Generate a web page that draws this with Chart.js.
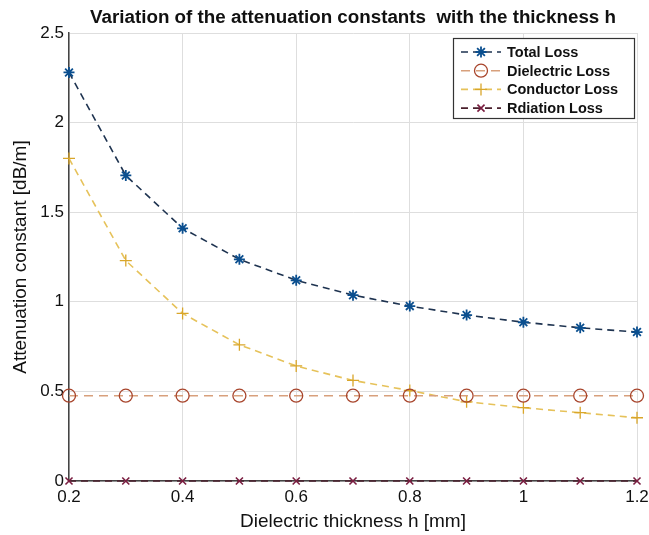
<!DOCTYPE html>
<html>
<head>
<meta charset="utf-8">
<script src="https://cdn.jsdelivr.net/npm/chart.js@4"></script>
<style>
  body { margin: 0; background: #fff; }
  #wrap { width: 649px; height: 535px; }
</style>
</head>
<body>
<div id="wrap"><canvas id="grafico" width="649" height="535"></canvas></div>
<script>
// thickness h [mm]
var espessuras = [0.2, 0.3, 0.4, 0.5, 0.6, 0.7, 0.8, 0.9, 1.0, 1.1, 1.2];

// attenuation constants [dB/m]
var perdaTotal      = [2.28, 1.705, 1.41, 1.237, 1.12, 1.037, 0.976, 0.926, 0.886, 0.855, 0.831];
var perdaDieletrico = [0.476, 0.476, 0.476, 0.476, 0.476, 0.476, 0.476, 0.476, 0.476, 0.476, 0.476];
var perdaCondutor   = [1.80, 1.23, 0.935, 0.76, 0.642, 0.561, 0.505, 0.442, 0.409, 0.381, 0.353];
var perdaRadiacao   = [0, 0, 0, 0, 0, 0, 0, 0, 0, 0, 0];

var nomes = ["Total Loss", "Dielectric Loss", "Conductor Loss", "Rdiation Loss"];
var titulo = "Variation of the attenuation constants  with the thickness h";
var ticksX = [0.2, 0.4, 0.6, 0.8, 1, 1.2];
var ticksY = [0, 0.5, 1, 1.5, 2, 2.5];

function pontos(valores) {
    var lista = [];
    for (var i = 0; i < espessuras.length; i++) {
        lista.push({ x: espessuras[i], y: valores[i] });
    }
    return lista;
}

function formata(v) {
    return String(Number(v.toFixed(2)));
}

var fonte = "'Liberation Sans', Arial, sans-serif";

// title centred over the axes, MATLAB style
var tituloMatlab = {
    id: "tituloMatlab",
    afterDraw: function (chart) {
        var ctx = chart.ctx;
        var area = chart.chartArea;
        ctx.save();
        ctx.fillStyle = "#111111";
        ctx.font = "bold 18.8px " + fonte;
        ctx.textAlign = "center";
        ctx.textBaseline = "middle";
        ctx.fillText(titulo, (area.left + area.right) / 2, 18);
        ctx.restore();
    }
};

// legend drawn like the MATLAB one: dashed sample + marker
var legendaMatlab = {
    id: "legendaMatlab",
    afterDraw: function (chart) {
        var ctx = chart.ctx;
        var x0 = 453, y0 = 38, w = 181, h = 80;
        ctx.save();
        ctx.fillStyle = "#ffffff";
        ctx.fillRect(x0, y0, w, h);
        ctx.strokeStyle = "#333333";
        ctx.lineWidth = 1.2;
        ctx.setLineDash([]);
        ctx.strokeRect(x0 + 0.5, y0 + 0.5, w, h);

        var ds = chart.data.datasets;
        for (var i = 0; i < ds.length; i++) {
            var y = y0 + 14 + i * 18.7;
            ctx.strokeStyle = ds[i].borderColor;
            ctx.lineWidth = ds[i].borderWidth;
            ctx.setLineDash(ds[i].borderDash);
            ctx.beginPath();
            ctx.moveTo(x0 + 8, y);
            ctx.lineTo(x0 + 48, y);
            ctx.stroke();
            ctx.setLineDash([]);
            if (ds[i].pointRadius > 0) {
                ctx.strokeStyle = ds[i].pointBorderColor;
                ctx.fillStyle = ds[i].pointBackgroundColor;
                ctx.lineWidth = ds[i].pointBorderWidth;
                Chart.helpers.drawPoint(ctx, {
                    pointStyle: ds[i].pointStyle,
                    radius: ds[i].pointRadius,
                    rotation: 0,
                    borderWidth: ds[i].pointBorderWidth
                }, x0 + 28, y);
            }
            ctx.fillStyle = "#111111";
            ctx.font = "bold 14.5px " + fonte;
            ctx.textBaseline = "middle";
            ctx.textAlign = "left";
            ctx.fillText(nomes[i], x0 + 54, y + 1);
        }
        ctx.restore();
    }
};

new Chart(document.getElementById("grafico"), {
    type: "line",
    data: {
        datasets: [{
            label: nomes[0],
            data: pontos(perdaTotal),
            borderColor: "#1e3350",
            borderWidth: 1.6,
            borderDash: [7, 5],
            pointStyle: "star",
            pointRadius: 5.5,
            pointBorderColor: "#0b4f8f",
            pointBackgroundColor: "#0b4f8f",
            pointBorderWidth: 1.8,
            tension: 0,
            clip: false
        }, {
            label: nomes[1],
            data: pontos(perdaDieletrico),
            borderColor: "#d8a07c",
            borderWidth: 1.6,
            borderDash: [9, 6],
            pointStyle: "circle",
            pointRadius: 6.5,
            pointBorderColor: "#a8452c",
            pointBackgroundColor: "rgba(0,0,0,0)",
            pointBorderWidth: 1.3,
            tension: 0,
            clip: false
        }, {
            label: nomes[2],
            data: pontos(perdaCondutor),
            borderColor: "#e6c25a",
            borderWidth: 1.6,
            borderDash: [7, 5],
            pointStyle: "cross",
            pointRadius: 6,
            pointBorderColor: "#d9a62a",
            pointBackgroundColor: "#d9a62a",
            pointBorderWidth: 1.3,
            tension: 0,
            clip: false
        }, {
            label: nomes[3],
            data: pontos(perdaRadiacao),
            borderColor: "#4a1f2c",
            borderWidth: 1.6,
            borderDash: [7, 5],
            pointStyle: "crossRot",
            pointRadius: 5,
            pointBorderColor: "#7a1d40",
            pointBackgroundColor: "#7a1d40",
            pointBorderWidth: 1.6,
            tension: 0,
            clip: false
        }]
    },
    options: {
        responsive: false,
        animation: false,
        layout: { padding: { top: 33, right: 12, bottom: 0, left: 0 } },
        plugins: {
            legend: { display: false },
            tooltip: { enabled: false },
            title: { display: false }
        },
        scales: {
            x: {
                type: "linear",
                min: 0.2,
                max: 1.2,
                afterBuildTicks: function (axis) {
                    axis.ticks = ticksX.map(function (v) { return { value: v }; });
                },
                afterFit: function (axis) {
                    axis.height = 54;
                    axis.paddingRight = 0;
                    axis.paddingLeft = 0;
                },
                ticks: {
                    color: "#111111",
                    font: { family: fonte, size: 17 },
                    padding: 6,
                    maxRotation: 0,
                    callback: function (v) { return formata(v); }
                },
                grid: { color: "#dedede", lineWidth: 1, drawTicks: false },
                border: { color: "#444444", width: 1.5 },
                title: {
                    display: true,
                    text: "Dielectric thickness h [mm]",
                    color: "#111111",
                    font: { family: fonte, size: 19 },
                    padding: { top: 2, bottom: 2 }
                }
            },
            y: {
                type: "linear",
                min: 0,
                max: 2.5,
                afterBuildTicks: function (axis) {
                    axis.ticks = ticksY.map(function (v) { return { value: v }; });
                },
                afterFit: function (axis) { axis.width = 69; },
                ticks: {
                    color: "#111111",
                    font: { family: fonte, size: 17 },
                    padding: 5,
                    callback: function (v) { return formata(v); }
                },
                grid: { color: "#dedede", lineWidth: 1, drawTicks: false },
                border: { color: "#444444", width: 1.5 },
                title: {
                    display: true,
                    text: "Attenuation constant [dB/m]",
                    color: "#111111",
                    font: { family: fonte, size: 19 },
                    padding: { top: 9, bottom: 2 }
                }
            }
        }
    },
    plugins: [tituloMatlab, legendaMatlab]
});
</script>
</body>
</html>
